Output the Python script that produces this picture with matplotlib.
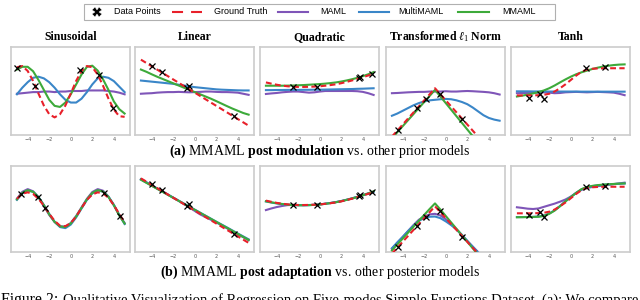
import numpy as np
import matplotlib
matplotlib.use("Agg")
import matplotlib.pyplot as plt
from matplotlib.lines import Line2D
from matplotlib.patches import Rectangle

plt.rcParams['mathtext.fontset'] = 'custom'
plt.rcParams['mathtext.rm'] = 'Liberation Serif'
plt.rcParams['mathtext.it'] = 'Liberation Serif:italic'
plt.rcParams['mathtext.bf'] = 'Liberation Serif:bold'

# x grid shared by every curve
xs = np.linspace(-5, 5, 21)

titles = ['Sinusoidal', 'Linear', 'Quadratic', r'Transformed $\ell_1$ Norm', 'Tanh']

# ---- sinusoidal ----
sin_gt_top = [2.16, 2.27, 1.82, 0.92, -0.23, -1.32, -2.11, -2.40, -2.11, -1.32, -0.23,
              0.92, 1.82, 2.27, 2.16, 1.50, 0.47, -0.69, -1.69, -2.29, -2.35]
sin_mmaml_top = [1.95, 2.2, 2.2, 1.8, 1.0, 0.1, -0.8, -1.35, -1.45, -1.05, -0.3,
                 0.6, 1.5, 2.2, 2.3, 1.85, 1.05, 0.1, -0.95, -1.65, -2.05]
sin_multi_top = [-0.3, 0.3, 0.8, 1.2, 1.3, 1.15, 0.8, 0.3, -0.3, -0.8, -1.05,
                 -1.05, -0.7, -0.1, 0.6, 1.15, 1.3, 1.2, 0.9, 0.4, -0.1]
sin_maml_top = [-0.25, -0.2, -0.15, -0.1, -0.1, -0.05, -0.05, -0.1, -0.05, -0.05, 0.0,
                0.0, 0.0, 0.05, 0.05, 0.05, 0.05, 0.0, -0.05, -0.15, -0.3]
sin_px_top = [-5.0, -3.3, 0.85, 2.65, 3.9]
sin_py_top = [2.1, 0.5, 1.9, 1.5, -1.5]

sin_gt_bot = [0.95, 1.42, 1.55, 1.4, 0.95, 0.3, -0.45, -1.1, -1.55, -1.6, -1.3,
              -0.7, 0.1, 0.85, 1.35, 1.55, 1.45, 1.05, 0.35, -0.45, -1.25]
sin_mmaml_bot = [0.9, 1.5, 1.75, 1.6, 1.1, 0.35, -0.5, -1.2, -1.62, -1.68, -1.35,
                 -0.7, 0.1, 0.9, 1.5, 1.75, 1.62, 1.12, 0.35, -0.6, -1.35]
sin_multi_bot = [0.85, 1.45, 1.72, 1.6, 1.12, 0.38, -0.45, -1.2, -1.68, -1.78, -1.45,
                 -0.78, 0.05, 0.85, 1.45, 1.72, 1.62, 1.15, 0.4, -0.55, -1.4]
sin_maml_bot = [0.95, 1.6, 1.85, 1.65, 1.1, 0.3, -0.55, -1.2, -1.6, -1.65, -1.3,
                -0.65, 0.15, 0.95, 1.58, 1.85, 1.7, 1.15, 0.35, -0.55, -1.3]
sin_px_bot = [-4.6, -3.05, -2.4, 3.1, 4.6]
sin_py_bot = [1.35, 1.1, 0.05, 1.5, -0.65]

# ---- linear ----
lin_gt = [2.85, 2.55, 2.25, 1.95, 1.65, 1.35, 1.05, 0.75, 0.45, 0.15, -0.15,
          -0.45, -0.75, -1.05, -1.35, -1.65, -1.95, -2.25, -2.55, -2.85, -3.15]
lin_px = [-4.0, -3.0, -0.55, -0.75, 3.65]
lin_py = [2.3, 1.75, 0.45, 0.3, -2.3]
lin_mmaml_top = [1.95, 1.75, 1.52, 1.3, 1.1, 0.9, 0.7, 0.5, 0.3, 0.1, -0.1,
                 -0.3, -0.5, -0.7, -0.92, -1.15, -1.38, -1.6, -1.8, -2.0, -2.15]
lin_multi_top = [0.95, 0.9, 0.85, 0.8, 0.75, 0.7, 0.65, 0.57, 0.5, 0.42, 0.35,
                 0.3, 0.25, 0.2, 0.15, 0.12, 0.1, 0.08, 0.06, 0.05, 0.05]
lin_maml_top = [-0.25, -0.22, -0.2, -0.15, -0.12, -0.1, -0.1, -0.08, -0.1, -0.12, -0.1,
                -0.08, -0.05, -0.05, -0.08, -0.1, -0.1, -0.12, -0.15, -0.25, -0.35]
lin_mmaml_bot = [2.72, 2.44, 2.16, 1.88, 1.6, 1.32, 1.04, 0.76, 0.48, 0.2, -0.08,
                 -0.36, -0.64, -0.92, -1.2, -1.48, -1.76, -2.04, -2.32, -2.6, -2.88]
lin_multi_bot = [2.75, 2.46, 2.18, 1.9, 1.62, 1.34, 1.06, 0.78, 0.5, 0.22, -0.06,
                 -0.34, -0.62, -0.9, -1.18, -1.45, -1.72, -2.0, -2.28, -2.55, -2.82]
lin_maml_bot = [2.78, 2.5, 2.2, 1.92, 1.64, 1.35, 1.05, 0.76, 0.46, 0.15, -0.18,
                -0.5, -0.75, -1.0, -1.25, -1.52, -1.8, -2.08, -2.36, -2.62, -2.9]

# ---- quadratic ----
quad_gt = [0.78, 0.67, 0.57, 0.49, 0.43, 0.39, 0.37, 0.37, 0.38, 0.4, 0.43,
           0.48, 0.54, 0.61, 0.71, 0.83, 0.96, 1.11, 1.26, 1.41, 1.57]
quad_px = [-2.5, -0.3, 3.6, 3.75, 4.85]
quad_py = [0.36, 0.4, 1.22, 1.3, 1.58]
quad_mmaml_top = [0.48, 0.48, 0.48, 0.48, 0.49, 0.5, 0.52, 0.54, 0.57, 0.6, 0.63,
                  0.67, 0.72, 0.78, 0.86, 0.96, 1.07, 1.2, 1.35, 1.52, 1.72]
quad_multi_top = [0.08, 0.08, 0.09, 0.09, 0.1, 0.1, 0.1, 0.11, 0.11, 0.12, 0.12,
                  0.13, 0.14, 0.15, 0.16, 0.17, 0.18, 0.2, 0.21, 0.23, 0.25]
quad_maml_top = [-0.27, -0.22, -0.18, -0.12, -0.08, -0.05, -0.05, -0.1, -0.15, -0.12, -0.05,
                 0.0, 0.0, 0.0, 0.0, 0.0, 0.0, -0.02, -0.08, -0.2, -0.36]
quad_mmaml_bot = [0.72, 0.62, 0.54, 0.47, 0.41, 0.37, 0.35, 0.35, 0.36, 0.38, 0.42,
                  0.48, 0.55, 0.63, 0.73, 0.85, 0.98, 1.12, 1.28, 1.45, 1.65]
quad_multi_bot = [0.7, 0.6, 0.52, 0.45, 0.4, 0.37, 0.35, 0.35, 0.36, 0.39, 0.43,
                  0.49, 0.56, 0.64, 0.74, 0.86, 0.99, 1.13, 1.28, 1.44, 1.6]
quad_maml_bot = [-0.1, 0.05, 0.18, 0.28, 0.36, 0.38, 0.37, 0.36, 0.37, 0.39, 0.43,
                 0.49, 0.56, 0.64, 0.74, 0.86, 0.99, 1.13, 1.28, 1.45, 1.62]

# ---- transformed l1 norm ----
l1_gt = [-4.15, -3.6, -3.05, -2.5, -1.95, -1.4, -0.85, -0.3, 0.25, -0.3, -0.85,
         -1.4, -1.95, -2.5, -3.05, -3.6, -4.15, -4.7, -5.25, -5.8, -6.35]
l1_px = [-4.43, -2.63, -1.86, -0.56, 1.55]
l1_py = [-3.52, -1.54, -0.7, -0.23, -2.56]
l1_mmaml_top = [-4.3, -3.75, -3.2, -2.65, -2.1, -1.55, -1.0, -0.45, 0.1, -0.5, -1.1,
                -1.7, -2.3, -2.9, -3.5, -4.1, -4.7, -5.3, -5.9, -6.5, -7.1]
l1_multi_top = [-2.25, -2.05, -1.8, -1.55, -1.3, -1.1, -0.95, -0.85, -0.8, -0.75, -0.72,
                -0.75, -0.85, -1.0, -1.2, -1.5, -1.85, -2.2, -2.45, -2.6, -2.7]
l1_maml_top = [-0.2, -0.18, -0.15, -0.12, -0.1, -0.08, -0.08, -0.05, -0.05, -0.05, -0.02,
               -0.05, -0.05, -0.02, 0.0, -0.02, -0.05, -0.08, -0.12, -0.2, -0.32]
l1_mmaml_bot = [-3.85, -3.3, -2.75, -2.2, -1.65, -1.1, -0.55, 0.0, 0.52, -0.05, -0.65,
                -1.25, -1.85, -2.45, -3.05, -3.65, -4.25, -4.85, -5.45, -6.05, -6.65]
l1_multi_bot = [-3.65, -3.1, -2.6, -2.05, -1.55, -1.1, -0.85, -0.72, -0.7, -0.85, -1.15,
                -1.5, -1.9, -2.4, -2.95, -3.5, -4.05, -4.6, -5.15, -5.7, -6.25]
l1_maml_bot = [-3.7, -3.15, -2.6, -2.05, -1.5, -1.0, -0.7, -0.5, -0.45, -0.6, -0.95,
               -1.4, -1.9, -2.45, -3.0, -3.5, -4.0, -4.5, -5.0, -5.5, -6.0]

# ---- tanh ----
tanh_gt = [-0.4, -0.4, -0.4, -0.4, -0.38, -0.35, -0.25, -0.05, 0.25, 0.6, 1.0,
           1.4, 1.75, 1.95, 2.02, 2.05, 2.06, 2.07, 2.07, 2.07, 2.07]
tanh_px = [-3.88, -2.88, -2.51, 1.46, 3.16]
tanh_py = [-0.6, -0.3, -0.76, 2.06, 2.15]
tanh_mmaml_top = [-0.5, -0.42, -0.33, -0.22, -0.1, 0.05, 0.25, 0.5, 0.78, 1.05, 1.3,
                  1.52, 1.7, 1.85, 2.0, 2.12, 2.22, 2.3, 2.36, 2.4, 2.42]
tanh_multi_top = [-0.03, -0.03, -0.03, -0.04, -0.04, -0.04, -0.05, -0.05, -0.05, -0.05, -0.05,
                  -0.05, -0.06, -0.06, -0.06, -0.06, -0.06, -0.06, -0.06, -0.06, -0.06]
tanh_maml_top = [-0.2, -0.18, -0.18, -0.15, -0.15, -0.12, -0.15, -0.2, -0.18, -0.12, -0.1,
                 -0.08, -0.1, -0.12, -0.1, -0.08, -0.1, -0.12, -0.15, -0.25, -0.38]
tanh_mmaml_bot = [-0.77, -0.76, -0.75, -0.74, -0.72, -0.65, -0.45, -0.15, 0.25, 0.7, 1.1,
                  1.5, 1.85, 2.05, 2.15, 2.22, 2.27, 2.3, 2.33, 2.36, 2.38]
tanh_multi_bot = [-0.75, -0.75, -0.74, -0.73, -0.7, -0.62, -0.42, -0.12, 0.28, 0.72, 1.12,
                  1.5, 1.83, 2.02, 2.13, 2.2, 2.25, 2.29, 2.32, 2.35, 2.37]
tanh_maml_bot = [0.16, 0.1, 0.03, 0.0, 0.05, 0.2, 0.35, 0.5, 0.68, 0.88, 1.15,
                 1.5, 1.78, 1.95, 2.05, 2.12, 2.18, 2.25, 2.32, 2.38, 2.45]

top_row = [
    (sin_gt_top, sin_maml_top, sin_multi_top, sin_mmaml_top, sin_px_top, sin_py_top),
    (lin_gt, lin_maml_top, lin_multi_top, lin_mmaml_top, lin_px, lin_py),
    (quad_gt, quad_maml_top, quad_multi_top, quad_mmaml_top, quad_px, quad_py),
    (l1_gt, l1_maml_top, l1_multi_top, l1_mmaml_top, l1_px, l1_py),
    (tanh_gt, tanh_maml_top, tanh_multi_top, tanh_mmaml_top, tanh_px, tanh_py),
]
bot_row = [
    (sin_gt_bot, sin_maml_bot, sin_multi_bot, sin_mmaml_bot, sin_px_bot, sin_py_bot),
    (lin_gt, lin_maml_bot, lin_multi_bot, lin_mmaml_bot, lin_px, lin_py),
    (quad_gt, quad_maml_bot, quad_multi_bot, quad_mmaml_bot, quad_px, quad_py),
    (l1_gt, l1_maml_bot, l1_multi_bot, l1_mmaml_bot, l1_px, l1_py),
    (tanh_gt, tanh_maml_bot, tanh_multi_bot, tanh_mmaml_bot, tanh_px, tanh_py),
]

c_gt = '#e8202a'
c_maml = '#7f55b8'
c_multi = '#3a86c8'
c_mmaml = '#3daa3a'

W, H = 640, 300
fig = plt.figure(figsize=(6.4, 3.0), dpi=100)

lefts = [11, 135, 260, 386, 511]
pw = 119
rows = [(47, 135), (166, 252)]


def fx(px):
    return px / W


def fy(py):
    return 1 - py / H


def draw(ax, series):
    gt, maml, multi, mmaml, px, py = series
    ax.plot(xs, maml, color=c_maml, lw=1.5, zorder=2)
    ax.plot(xs, multi, color=c_multi, lw=1.5, zorder=3)
    ax.plot(xs, mmaml, color=c_mmaml, lw=1.5, zorder=4)
    ax.plot(xs, gt, color=c_gt, lw=1.5, ls=(0, (2.8, 1.6)), zorder=5)
    ax.plot(px, py, ls='none', marker='x', ms=4, mew=0.9, color='black', zorder=6)
    ax.set_xlim(-5.55, 5.5)
    ax.set_ylim(-4, 4)
    ax.set_xticks([-4, -2, 0, 2, 4])
    ax.set_yticks([])
    ax.tick_params(axis='x', length=0, pad=1.2, labelsize=3.5, labelcolor='#555555')
    for s in ax.spines.values():
        s.set_color('#cccccc')
        s.set_linewidth(1.2)


for r, (row_series, (ytop, ybot)) in enumerate(zip([top_row, bot_row], rows)):
    for i, series in enumerate(row_series):
        ax = fig.add_axes([fx(lefts[i]), fy(ybot), pw / W, (ybot - ytop) / H])
        draw(ax, series)
        if r == 0:
            ax.set_title(titles[i], fontsize=8.5, fontweight='bold',
                         family='Liberation Serif', pad=5)

# legend drawn by hand so the spacing matches
labels = ['Data Points', 'Ground Truth', 'MAML', 'MultiMAML', 'MMAML']
label_x = [114, 214, 320, 398, 502]
handle_x = [None, (172, 202), (278, 308), (359, 389), (458, 489)]
handle_c = [None, c_gt, c_maml, c_multi, c_mmaml]
ly = 12

fig.add_artist(Rectangle((fx(84), fy(20)), (555 - 84) / W, 16 / H, transform=fig.transFigure,
                         facecolor='white', edgecolor='#b0b0b0', lw=0.8))
fig.add_artist(Line2D([fx(97)], [fy(ly)], transform=fig.transFigure, ls='none',
                      marker='X', ms=7, color='black', mec='white', mew=0.3))
for lab, tx, hx, hc in zip(labels, label_x, handle_x, handle_c):
    if hx is not None:
        ls = (0, (5.3, 3.85)) if hc == c_gt else '-'
        fig.add_artist(Line2D([fx(hx[0]), fx(hx[1])], [fy(ly), fy(ly)],
                              transform=fig.transFigure, color=hc, lw=1.5, ls=ls))
    fig.text(fx(tx), fy(ly), lab, ha='left', va='center', fontsize=6.5,
             family='Liberation Sans')

fig.text(0.5, fy(151),
         r'$\mathbf{(a)}$ MMAML $\mathbf{post\ modulation}$ vs. other prior models',
         ha='center', va='center', fontsize=10, family='Liberation Serif')
fig.text(0.5, fy(272),
         r'$\mathbf{(b)}$ MMAML $\mathbf{post\ adaptation}$ vs. other posterior models',
         ha='center', va='center', fontsize=10, family='Liberation Serif')

fig.text(fx(1), fy(292), 'Figure 2:', ha='left', va='top', fontsize=11.3,
         family='Liberation Serif')
fig.text(fx(63), fy(293),
         'Qualitative Visualization of Regression on Five-modes Simple Functions Dataset. (a): We compare',
         ha='left', va='top', fontsize=10.5, family='Liberation Serif')

fig.savefig('out.png', dpi=100)
